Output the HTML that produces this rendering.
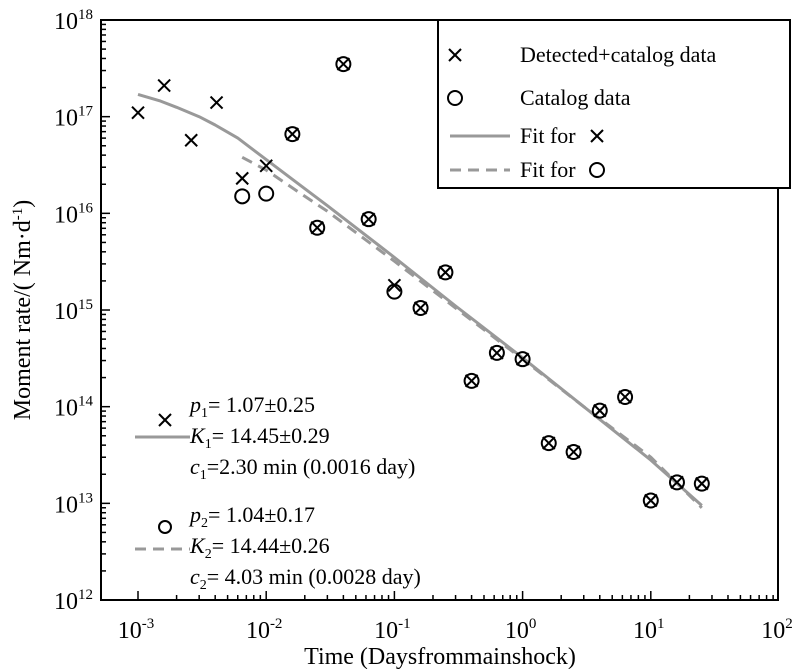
<!DOCTYPE html>
<html><head><meta charset="utf-8"><style>
body{margin:0;background:#fff}
svg{display:block;font-family:"Liberation Serif",serif}
</style></head><body>
<svg id="chart" width="800" height="669" viewBox="0 0 800 669">
<g id="ticks"></g>
<g id="marks"></g>
<rect x="101" y="20" width="677" height="580" fill="none" stroke="#000" stroke-width="2"/>
<g id="labels" font-size="24"></g>
<text x="440" y="664" font-size="24" text-anchor="middle">Time (Daysfrommainshock)</text>
<text transform="translate(30,310) rotate(-90)" font-size="24" text-anchor="middle">Moment rate/( Nm·d<tspan dy="-8" font-size="15">-1</tspan><tspan dy="8">)</tspan></text>
<g>
<rect x="438" y="20" width="352" height="168" fill="#fff" stroke="#000" stroke-width="2"/>
<g stroke="#000" stroke-width="2"><line x1="449" y1="49" x2="461" y2="61"/><line x1="461" y1="49" x2="449" y2="61"/></g>
<text x="520" y="62" font-size="22">Detected+catalog data</text>
<circle cx="455" cy="98" r="7" fill="none" stroke="#000" stroke-width="2"/>
<text x="520" y="105" font-size="22">Catalog data</text>
<line x1="450" y1="136" x2="510" y2="136" stroke="#999" stroke-width="3"/>
<text x="520" y="143" font-size="22">Fit for</text>
<g stroke="#000" stroke-width="2"><line x1="591" y1="130" x2="603" y2="142"/><line x1="603" y1="130" x2="591" y2="142"/></g>
<line x1="450" y1="170" x2="510" y2="170" stroke="#999" stroke-width="3" stroke-dasharray="11,7"/>
<text x="520" y="177" font-size="22">Fit for</text>
<circle cx="597" cy="170" r="7" fill="none" stroke="#000" stroke-width="2"/>
</g>
<g font-size="22">
<g stroke="#000" stroke-width="2"><line x1="159" y1="414" x2="171" y2="426"/><line x1="171" y1="414" x2="159" y2="426"/></g>
<line x1="135" y1="437" x2="190" y2="437" stroke="#999" stroke-width="3"/>
<text x="190" y="412"><tspan font-style="italic">p</tspan><tspan font-size="14" dy="5">1</tspan><tspan dy="-5">= 1.07±0.25</tspan></text>
<text x="190" y="443"><tspan font-style="italic">K</tspan><tspan font-size="14" dy="5">1</tspan><tspan dy="-5">= 14.45±0.29</tspan></text>
<text x="190" y="474"><tspan font-style="italic">c</tspan><tspan font-size="14" dy="5">1</tspan><tspan dy="-5">=2.30 min (0.0016 day)</tspan></text>
<circle cx="165" cy="527" r="6" fill="none" stroke="#000" stroke-width="2"/>
<line x1="135" y1="549" x2="190" y2="549" stroke="#999" stroke-width="3" stroke-dasharray="11,7"/>
<text x="190" y="522"><tspan font-style="italic">p</tspan><tspan font-size="14" dy="5">2</tspan><tspan dy="-5">= 1.04±0.17</tspan></text>
<text x="190" y="553"><tspan font-style="italic">K</tspan><tspan font-size="14" dy="5">2</tspan><tspan dy="-5">= 14.44±0.26</tspan></text>
<text x="190" y="584"><tspan font-style="italic">c</tspan><tspan font-size="14" dy="5">2</tspan><tspan dy="-5">= 4.03 min (0.0028 day)</tspan></text>
</g>
</svg>
<script>
const crossT=[0.001,0.0016,0.0026,0.0041,0.0065,0.01,0.016,0.025,0.04,0.063,0.1,0.16,0.25,0.4,0.63,1,1.6,2.5,4,6.3,10,16,25];
const crossM=[1.1e17,2.1e17,5.7e16,1.4e17,2.3e16,3.1e16,6.6e16,7.1e15,3.5e17,8.7e15,1.8e15,1.05e15,2.45e15,1.85e14,3.6e14,3.1e14,4.2e13,3.4e13,9.1e13,1.26e14,1.07e13,1.65e13,1.6e13];
const circT=[0.0065,0.01,0.016,0.025,0.04,0.063,0.1,0.16,0.25,0.4,0.63,1,1.6,2.5,4,6.3,10,16,25];
const circM=[1.5e16,1.6e16,6.6e16,7.1e15,3.5e17,8.7e15,1.55e15,1.05e15,2.45e15,1.85e14,3.6e14,3.1e14,4.2e13,3.4e13,9.1e13,1.26e14,1.07e13,1.65e13,1.6e13];
const fit1T=[0.001,0.0015,0.002,0.003,0.004,0.006,0.01,0.02,0.03,0.1,0.3,1,3,10,25];
const fit1M=[1.7e17,1.45e17,1.25e17,1.0e17,8.2e16,6.0e16,3.6e16,1.8e16,1.2e16,3.5e15,1.1e15,3.2e14,1e14,2.8e13,9.5e12];
const fit2T=[0.0065,0.01,0.02,0.03,0.1,0.3,1,3,10,25];
const fit2M=[3.8e16,2.8e16,1.5e16,1.05e16,3.2e15,1.05e15,3.1e14,1e14,3e13,9e12];
const xExp=[-3,-2,-1,0,1,2];
const yExp=[12,13,14,15,16,17,18];
const NS="http://www.w3.org/2000/svg";
const X=t=>138+(Math.log10(t)+3)*128.2;
const Y=m=>20+(18-Math.log10(m))*96.67;
function mk(tag,a,p){const e=document.createElementNS(NS,tag);for(const k in a)e.setAttribute(k,a[k]);p.appendChild(e);return e;}
const ticks=document.getElementById('ticks'),labels=document.getElementById('labels'),marks=document.getElementById('marks');
for(let d=-3;d<=1;d++){for(let k=1;k<10;k++){const t=k*Math.pow(10,d);const x=X(t);const l=mk('line',{x1:x,x2:x,y1:600,y2:600-(k==1?9:5),stroke:'#000','stroke-width':1.5},ticks);

}}
xExp.forEach(e=>{const t=mk('text',{x:X(Math.pow(10,e))-2,y:638,'text-anchor':'middle'},labels);


t.innerHTML='10<tspan dy="-10" font-size="15">'+e+'</tspan>';});
for(let d=12;d<18;d++){for(let k=1;k<10;k++){const y=Y(k*Math.pow(10,d));const l=mk('line',{x1:101,x2:101+(k==1?9:5),y1:y,y2:y,stroke:'#000','stroke-width':1.5},ticks);

}}
yExp.forEach(e=>{const t=mk('text',{x:93,y:Y(Math.pow(10,e))+9,'text-anchor':'end'},labels);


t.innerHTML='10<tspan dy="-10" font-size="15">'+e+'</tspan>';});
function path(T,M,dash,name){const d=T.map((t,i)=>(i?'L':'M')+X(t).toFixed(1)+','+Y(M[i]).toFixed(1)).join('');
const p=mk('path',{d:d,fill:'none',stroke:'#999','stroke-width':3,'stroke-linejoin':'round'},marks);if(dash)p.setAttribute('stroke-dasharray','11,7');

}
path(fit1T,fit1M,false,'fit-line-cross');
path(fit2T,fit2M,true,'fit-line-circle');
circT.forEach((t,i)=>{const c=mk('circle',{cx:X(t),cy:Y(circM[i]),r:7,fill:'none',stroke:'#000','stroke-width':2},marks);

});
crossT.forEach((t,i)=>{const x=X(t),y=Y(crossM[i]);const g=mk('g',{stroke:'#000','stroke-width':2},marks);


mk('line',{x1:x-6,y1:y-6,x2:x+6,y2:y+6},g);mk('line',{x1:x+6,y1:y-6,x2:x-6,y2:y+6},g);});
</script>
</body></html>
